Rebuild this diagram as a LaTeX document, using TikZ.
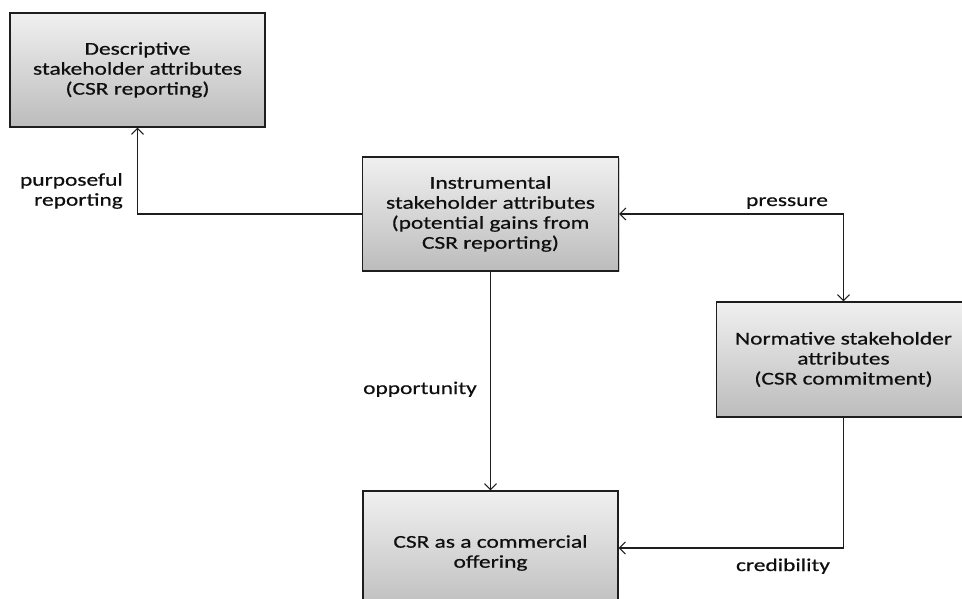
\documentclass[tikz,border=0pt]{standalone}
\usepackage{fontspec}
\setmainfont{Carlito}[FakeStretch=1.3,FakeBold=0.6]
\usetikzlibrary{arrows.meta,shadows,calc}
\definecolor{boxtop}{RGB}{240,240,240}
\definecolor{boxbot}{RGB}{188,188,188}
\definecolor{edge}{RGB}{30,30,30}
\definecolor{ink}{RGB}{15,15,15}
\tikzset{
  box/.style={draw=edge, line width=1.3pt, top color=boxtop, bottom color=boxbot,
    minimum width=255pt, minimum height=114pt, inner sep=4pt, align=center,
    text=ink, font=\fontsize{18}{20}\selectfont,
    drop shadow={shadow xshift=1.2pt, shadow yshift=-1.2pt, opacity=0.35}},
  lbl/.style={text=ink, font=\fontsize{18}{20}\selectfont, inner sep=0pt},
  barbtip/.tip={Straight Barb[length=6pt,width=12pt,line width=1.1pt]},
  conn/.style={draw=edge, line width=1.3pt, -{barbtip}},
}
\begin{document}
\begin{tikzpicture}[x=1pt,y=-1pt]
\useasboundingbox (0,0) rectangle (962,599);
\begin{scope}
\clip (0,0) rectangle (962,599);
\node[box] (desc) at (137.5,70) {Descriptive\\stakeholder attributes\\(CSR reporting)};
\node[box, minimum width=256pt] (instr) at (490.5,214) {Instrumental\\stakeholder attributes\\(potential gains from\\CSR reporting)};
\node[box, minimum width=254pt, minimum height=115pt] (norm) at (843.5,359.5) {Normative stakeholder\\attributes\\(CSR commitment)};
\node[box, minimum height=124pt] (csr) at (490.5,553) {CSR as a commercial\\offering};
\end{scope}

\draw[conn] (instr.west) -| (desc.south);
\draw[conn, {barbtip}-{barbtip}] (instr.east) -| (norm.north);
\draw[conn] (instr.south) -- (csr.north);
\draw[conn] (norm.south) |- ([yshift=5pt]csr.east);

\node[lbl, align=right, anchor=east] (lpurp) at (123,191) {purposeful\\reporting};
\node[lbl, anchor=base] (lpress) at (787,206) {pressure};
\node[lbl, anchor=base] (lopp) at (420,394) {opportunity};
\node[lbl, anchor=base] (lcred) at (783,571) {credibility};
\end{tikzpicture}
\end{document}
